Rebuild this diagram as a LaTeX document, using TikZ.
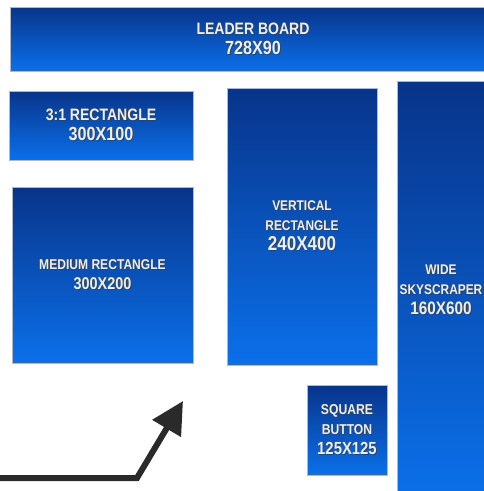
\documentclass[tikz,border=0pt]{standalone}
\usepackage{fontspec}
\usetikzlibrary{arrows.meta,shadows}
\newfontfamily\adfont{Liberation Sans}[FakeStretch=0.85]
\definecolor{AdTop}{HTML}{08348A}
\definecolor{AdMid}{HTML}{0A46A8}
\definecolor{AdBottom}{HTML}{0B70EA}
\definecolor{AdEdge}{HTML}{B4B8BE}
\definecolor{Pointer}{HTML}{2A2A2A}
\newcommand{\adsize}[1]{\fontsize{#1}{20}\selectfont}
% white label with a dark drop shadow
\newcommand{\adline}[1]{\makebox[0pt][l]{\hspace{0.9pt}\raisebox{-0.9pt}{\textcolor{black!75}{#1}}}#1}
\tikzset{
  adbox/.style={draw=AdEdge,line width=1pt,top color=AdTop,middle color=AdMid,bottom color=AdBottom,
    text=white!92!AdTop,align=center,inner sep=0pt,
    drop shadow={shadow xshift=0.8pt,shadow yshift=-1.2pt,fill=black!40,opacity=0.5}},
  adfont/.style={font=\adfont\bfseries\fontsize{#1}{20}\selectfont}
}

\begin{document}
\begin{tikzpicture}[x=1pt,y=-1pt]
  \useasboundingbox (0,0) rectangle (484,491);
  \fill[white] (0,0) rectangle (484,491);
  \clip (0,0) rectangle (484,491);
  % ad sizes
  \node[adbox,adfont=16.5,minimum width=486pt,minimum height=64pt] (leader) at (253,39) {\adline{LEADER BOARD}\\{\adsize{19}\adline{728X90}}};
  \node[adbox,adfont=16.5,minimum width=184pt,minimum height=69pt] (rect31) at (101,125.5) {\adline{3:1 RECTANGLE}\\{\adsize{19}\adline{300X100}}};
  \node[adbox,adfont=14.2,minimum width=181pt,minimum height=176pt] (medium) at (102.5,275) {\adline{MEDIUM RECTANGLE}\\{\adsize{17}\adline{300X200}}};
  \node[adbox,adfont=14,minimum width=150pt,minimum height=277pt] (vertical) at (302,226.5) {\adline{VERTICAL}\\\adline{RECTANGLE}\\{\adsize{20}\adline{240X400}}};
  \node[adbox,adfont=14,minimum width=88pt,minimum height=419pt] (wide) at (441,290.5) {\adline{WIDE}\\\adline{SKYSCRAPER}\\{\adsize{18}\adline{160X600}}};
  \node[adbox,adfont=14.3,minimum width=80pt,minimum height=90pt] (square) at (347,430) {\adline{SQUARE}\\\adline{BUTTON}\\{\adsize{17.5}\adline{125X125}}};
  % pointer
  \coordinate (arrowstart) at (-4,478);
  \coordinate (arrowbend) at (137,478);
  \coordinate (arrowtip) at (183,401);
  \draw[Pointer,line width=6pt,-{Triangle[length=32pt,width=32pt]}] (arrowstart) -- (arrowbend) -- (arrowtip);
\end{tikzpicture}
\end{document}
